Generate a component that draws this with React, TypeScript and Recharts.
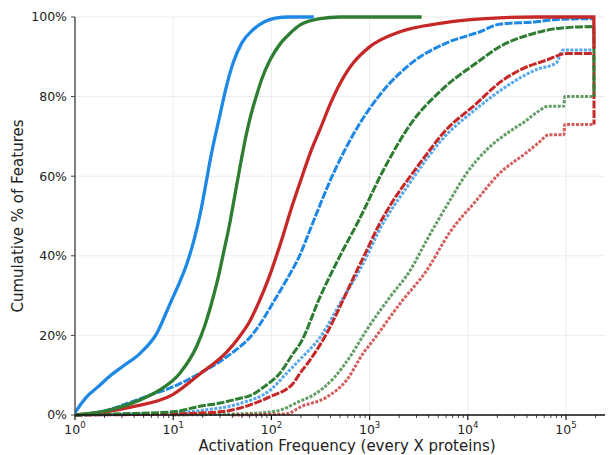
import React from 'react'
import { LineChart, Line, XAxis, YAxis, CartesianGrid, ReferenceLine } from 'recharts'

// [activation frequency, cumulative %]
const blueSolid: [number, number][] = [
  [1, 0.6], [1.32, 4.6], [1.7, 7], [2.27, 9.8], [3.1, 12.3], [4.6, 15.5], [6.8, 20.5], [9.3, 28],
  [11.7, 33.5], [14, 38.5], [16.5, 44.5], [19, 51], [21.5, 58], [24, 64.5], [27, 70.5], [30, 75.5],
  [34, 81.5], [40.8, 88.5], [50, 93.5], [65, 96.8], [85, 98.8], [110, 99.7], [150, 100], [270, 100]
]
const greenSolid: [number, number][] = [
  [1, 0], [2.27, 1.3], [4.6, 3.8], [7.3, 6.3], [11.7, 10.5], [17.3, 17.2], [21, 22.5], [25.6, 29.7],
  [29, 35], [32.4, 40.5], [37.9, 48.5], [43, 56], [48, 62.5], [55, 70], [62, 75.5], [70, 80],
  [80, 84.5], [96.8, 89.2], [125, 93.5], [155, 95.9], [196, 98], [313, 99.6], [500, 100], [3390, 100]
]
const redSolid: [number, number][] = [
  [1, 0], [2, 0.8], [3.9, 2.1], [10, 5.2], [18.7, 10.3], [35, 15.8], [45, 19], [60, 23.5],
  [75, 28.5], [91, 33.5], [131, 45], [160, 52], [196, 58.5], [250, 66], [313, 71.8], [400, 78.3],
  [500, 83.3], [600, 86.6], [700, 88.8], [1000, 92.5], [2040, 96.3], [5200, 98.4], [10000, 99.3],
  [21000, 99.8], [50000, 100], [192000, 100], [193000, 92]
]
const blueDotted: [number, number][] = [
  [1, 0], [2, 1], [3.4, 2.9], [5.8, 5], [10, 7.1], [18.7, 10.5], [35, 14.6], [65.4, 20.5],
  [113, 29.7], [143, 34], [196, 40.3], [247, 46.5], [428, 60.7], [740, 72], [1277, 80.5],
  [2790, 88.8], [6100, 93.5], [13300, 96.3], [21000, 98.2], [50000, 98.8], [80000, 99.4],
  [193000, 99.6]
]
const greenDotted: [number, number][] = [
  [1, 0], [3, 0.3], [10, 0.8], [18.7, 2.2], [30, 3], [48, 4.2], [60, 4.8], [83, 7], [122, 10.5],
  [167, 15.5], [200, 18.3], [313, 29.7], [500, 40], [780, 49], [1380, 61.5], [2600, 73],
  [5600, 82], [12300, 88.5], [21000, 92.5], [46000, 95.8], [87000, 97.2], [192000, 97.6],
  [193000, 80]
]
const redDotted: [number, number][] = [
  [1, 0], [10, 0.3], [30, 0.8], [60, 2.5], [97, 4.6], [167, 8], [196, 10.5], [247, 13.8],
  [366, 20.5], [540, 29], [700, 35], [920, 41], [1200, 47], [1700, 53.5], [2600, 60],
  [3800, 65.5], [5600, 70.8], [12300, 78.3], [21000, 83.5], [34000, 86.7], [64000, 89.2],
  [100000, 90.8], [192000, 90.8], [193000, 73]
]
const blueFaint: [number, number][] = [
  [1, 0], [10, 0.5], [20, 1.2], [48, 2.9], [100, 6.5], [143, 10.5], [196, 14], [313, 19.5],
  [500, 28], [920, 39.5], [1200, 45.5], [2600, 58.5], [5600, 69.5], [12300, 77], [24500, 82.5],
  [50000, 86.8], [80000, 88.5], [93000, 91.7], [193000, 91.7]
]
const greenFaint: [number, number][] = [
  [10, 0], [50, 0.3], [113, 1], [196, 3.5], [267, 5], [428, 9.2], [630, 14.6], [935, 21.4],
  [1620, 29.7], [2600, 36.4], [3830, 44], [6600, 54], [9700, 60.7], [15500, 66.6], [28000, 71.6],
  [38000, 73.7], [49000, 75.8], [67000, 77.6], [95000, 77.6], [97000, 80], [193000, 80]
]
const redFaint: [number, number][] = [
  [40, 0], [143, 0.3], [196, 2], [366, 4.5], [585, 8.8], [860, 15.5], [1090, 18.8], [2040, 28],
  [3830, 36.4], [6600, 46], [12300, 54], [21000, 60.7], [39000, 65.8], [52000, 68.3],
  [67000, 70.4], [95000, 70.4], [97000, 73], [193000, 73]
]

const xMax = 301000
const xMajorTicks = [1, 10, 100, 1000, 10000, 100000]
const yTicks = [0, 20, 40, 60, 80, 100]

const BLUE = '#1E88E5'
const GREEN = '#2E7D32'
const RED = '#C62828'
const FONT = 'DejaVu Sans, sans-serif'

const xMinorTicks = xMajorTicks
  .flatMap(d => [2, 3, 4, 5, 6, 7, 8, 9].map(m => m * d))
  .filter(v => v <= xMax)
const xTicks = [...xMajorTicks, ...xMinorTicks].sort((a, b) => a - b)

const toRows = (pts: [number, number][]) => pts.map(([x, y]) => ({ x, y }))

function LogTick(props: any) {
  const { x, y, payload } = props
  const lg = Math.log10(payload.value)
  const exp = Math.round(lg)
  const major = Math.abs(lg - exp) < 1e-6
  return (
    <g>
      <line x1={x} x2={x} y1={y} y2={y + (major ? 5 : 3)} stroke="#111" strokeWidth={major ? 1.2 : 0.8} />
      {major && (
        <text x={x} y={y + 19} textAnchor="middle" fontSize={12.5} fill="#222" fontFamily={FONT}>
          <tspan>10</tspan>
          <tspan dy={-6} fontSize={8.5}>{exp}</tspan>
        </text>
      )}
    </g>
  )
}

type S = { data: [number, number][]; color: string; kind: 'solid' | 'dash' | 'dot' }
const series: S[] = [
  { data: greenFaint, color: GREEN, kind: 'dot' },
  { data: redFaint, color: RED, kind: 'dot' },
  { data: blueFaint, color: BLUE, kind: 'dot' },
  { data: redDotted, color: RED, kind: 'dash' },
  { data: greenDotted, color: GREEN, kind: 'dash' },
  { data: blueDotted, color: BLUE, kind: 'dash' },
  { data: redSolid, color: RED, kind: 'solid' },
  { data: greenSolid, color: GREEN, kind: 'solid' },
  { data: blueSolid, color: BLUE, kind: 'solid' }
]

export default function App() {
  return (
    <div style={{ width: 605, height: 447, fontFamily: FONT }}>
      <LineChart width={605} height={447} margin={{ top: 9, right: 0, bottom: 0, left: 0 }}>
        <CartesianGrid vertical={false} stroke="#ebebeb" />
        {xMajorTicks.slice(1).map(v => (
          <ReferenceLine key={v} x={v} stroke="#ebebeb" strokeWidth={1} />
        ))}
        <XAxis
          dataKey="x"
          type="number"
          scale="log"
          domain={[1, xMax]}
          allowDataOverflow
          ticks={xTicks}
          interval={0}
          height={40}
          tickSize={0}
          tickMargin={0}
          tickLine={false}
          tick={<LogTick />}
          axisLine={{ stroke: '#111', strokeWidth: 1.5 }}
          label={{
            value: 'Activation Frequency (every X proteins)',
            position: 'insideBottom',
            offset: 4,
            dx: 3,
            style: { fontSize: 15, fill: '#222', fontFamily: FONT }
          }}
        />
        <YAxis
          type="number"
          domain={[0, 100]}
          ticks={yTicks}
          width={67}
          tickSize={4}
          tickMargin={4}
          tickFormatter={(v: number) => `${v}%`}
          tick={{ fontSize: 12.5, fill: '#222', fontFamily: FONT }}
          tickLine={{ stroke: '#444' }}
          axisLine={{ stroke: '#555', strokeWidth: 1.5 }}
          label={{
            value: 'Cumulative % of Features',
            angle: -90,
            position: 'insideLeft',
            offset: 10,
            style: { textAnchor: 'middle', fontSize: 15, fill: '#222', fontFamily: FONT }
          }}
        />
        {series.map((s, i) => (
          <Line
            key={i}
            data={toRows(s.data)}
            dataKey="y"
            type="monotoneX"
            stroke={s.color}
            strokeWidth={s.kind === 'solid' ? 3.3 : 3}
            strokeDasharray={s.kind === 'dash' ? '8 1.5' : s.kind === 'dot' ? '3 1.5' : undefined}
            strokeOpacity={s.kind === 'dot' ? 0.75 : 1}
            dot={false}
            activeDot={false}
            isAnimationActive={false}
          />
        ))}
      </LineChart>
    </div>
  )
}
